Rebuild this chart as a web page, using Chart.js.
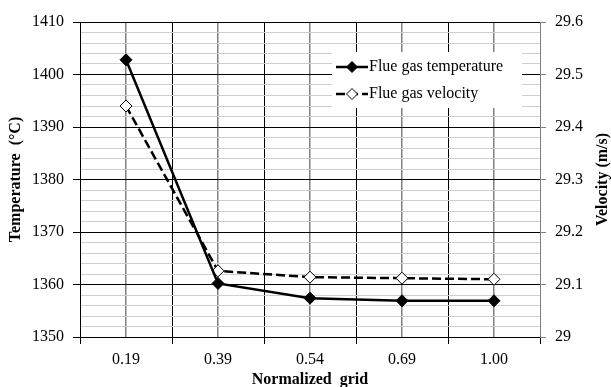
<!DOCTYPE html>
<html>
<head>
<meta charset="utf-8">
<script src="https://cdn.jsdelivr.net/npm/chart.js@4.4.1/dist/chart.umd.min.js"></script>
<style>
  html, body { margin: 0; padding: 0; background: #fff; }
  #wrap { width: 611px; height: 387px; position: relative; }
</style>
</head>
<body>
<div id="wrap"><canvas id="mainChart"></canvas></div>
<script>
// chart values
const categories = ['0.19', '0.39', '0.54', '0.69', '1.00'];
const temperature = [1402.8, 1360.2, 1357.4, 1356.9, 1356.9];
const velocity = [29.44, 29.126, 29.114, 29.112, 29.110];
const tempTicks = [1350, 1360, 1370, 1380, 1390, 1400, 1410];
const velTicks = [29, 29.1, 29.2, 29.3, 29.4, 29.5, 29.6];

const serif = 'Liberation Serif, Times New Roman, serif';

// legend + right axis title (reads bottom to top like the original)
const extras = {
    id: 'extras',
    afterDraw(chart) {
        const ctx = chart.ctx;
        const a = chart.chartArea;
        ctx.save();
        // legend box
        const bx = a.left + 252, by = a.top + 30;
        ctx.fillStyle = '#fff';
        ctx.fillRect(bx, by, 190, 56);
        const rows = [
            { text: 'Flue gas temperature', dash: [], fill: '#000', y: by + 15 },
            { text: 'Flue gas velocity', dash: [9, 4], fill: '#fff', y: by + 42 }
        ];
        rows.forEach(r => {
            ctx.strokeStyle = '#000';
            ctx.lineWidth = 2.5;
            ctx.setLineDash(r.dash);
            ctx.beginPath();
            ctx.moveTo(bx + 4, r.y);
            ctx.lineTo(bx + 36, r.y);
            ctx.stroke();
            ctx.setLineDash([]);
            ctx.beginPath();
            const cx = bx + 20, s = 5.5;
            ctx.moveTo(cx, r.y - s);
            ctx.lineTo(cx + s, r.y);
            ctx.lineTo(cx, r.y + s);
            ctx.lineTo(cx - s, r.y);
            ctx.closePath();
            ctx.fillStyle = r.fill;
            ctx.fill();
            ctx.lineWidth = 1;
            ctx.stroke();
            ctx.fillStyle = '#000';
            ctx.font = '16px ' + serif;
            ctx.textAlign = 'left';
            ctx.textBaseline = 'middle';
            ctx.fillText(r.text, bx + 37, r.y);
        });
        // right axis title
        ctx.translate(603, (a.top + a.bottom) / 2);
        ctx.rotate(-Math.PI / 2);
        ctx.font = 'bold 16px ' + serif;
        ctx.textAlign = 'center';
        ctx.textBaseline = 'middle';
        ctx.fillText('Velocity (m/s)', 0, 0);
        ctx.restore();
    }
};

const ctx = document.getElementById('mainChart').getContext('2d');
new Chart(ctx, {
    type: 'line',
    data: {
        labels: categories,
        datasets: [{
            label: 'Flue gas temperature',
            data: temperature,
            yAxisID: 'y',
            borderColor: '#000',
            borderWidth: 2.5,
            tension: 0,
            pointStyle: 'rectRot',
            pointRadius: 6,
            pointBackgroundColor: '#000',
            pointBorderColor: '#000',
            pointBorderWidth: 1
        }, {
            label: 'Flue gas velocity',
            data: velocity,
            yAxisID: 'y1',
            borderColor: '#000',
            borderWidth: 2.5,
            borderDash: [9, 4],
            tension: 0,
            pointStyle: 'rectRot',
            pointRadius: 6,
            pointBackgroundColor: '#fff',
            pointBorderColor: '#000',
            pointBorderWidth: 1
        }]
    },
    options: {
        responsive: true,
        maintainAspectRatio: false,
        animation: false,
        layout: { padding: { top: 22, left: 0, right: 0, bottom: 0 } },
        plugins: {
            legend: { display: false },
            tooltip: { enabled: false }
        },
        scales: {
            x: {
                type: 'category',
                position: 'bottom',
                offset: true,
                grid: { offset: true, color: '#000', tickColor: '#000', tickLength: 7, lineWidth: 1 },
                border: { color: '#000' },
                ticks: { color: '#000', padding: 6, font: { family: serif, size: 16 } },
                title: {
                    display: true,
                    text: 'Normalized  grid',
                    color: '#000',
                    font: { family: serif, size: 16, weight: 'bold', lineHeight: 1 },
                    padding: { top: 0, bottom: -1 }
                },
                afterFit: s => { s.height = 50; }
            },
            x2: {
                type: 'category',
                labels: categories,
                position: 'top',
                offset: true,
                grid: { offset: false, color: '#808080', lineWidth: 1.5, drawTicks: false },
                border: { display: false },
                ticks: { display: false },
                afterFit: s => { s.height = 0; }
            },
            y: {
                position: 'left',
                min: tempTicks[0],
                max: tempTicks[tempTicks.length - 1],
                grid: {
                    color: c => (c.tick && c.tick.value % 10 === 0) ? '#000' : '#cfcfcf',
                    tickColor: c => (c.tick && c.tick.value % 10 === 0) ? '#000' : 'rgba(0,0,0,0)',
                    tickLength: 7
                },
                border: { color: '#000' },
                ticks: {
                    stepSize: 2,
                    maxTicksLimit: 100,
                    autoSkip: false,
                    padding: 9,
                    color: '#000',
                    font: { family: serif, size: 16 },
                    callback: v => tempTicks.includes(v) ? String(v) : ''
                },
                title: {
                    display: true,
                    text: 'Temperature  (°C)',
                    color: '#000',
                    font: { family: serif, size: 16, weight: 'bold', lineHeight: 1 },
                    padding: { top: 8, bottom: 0 }
                },
                afterFit: s => { s.width = 80; }
            },
            y1: {
                position: 'right',
                min: velTicks[0],
                max: velTicks[velTicks.length - 1],
                grid: { drawOnChartArea: false, tickColor: '#808080', tickLength: 6 },
                border: { color: '#808080' },
                ticks: {
                    stepSize: 0.1,
                    autoSkip: false,
                    padding: 9,
                    color: '#000',
                    font: { family: serif, size: 16 },
                    callback: v => String(Number(v.toFixed(1)))
                },
                afterFit: s => { s.width = 71; }
            }
        }
    },
    plugins: [extras]
});
</script>
</body>
</html>
